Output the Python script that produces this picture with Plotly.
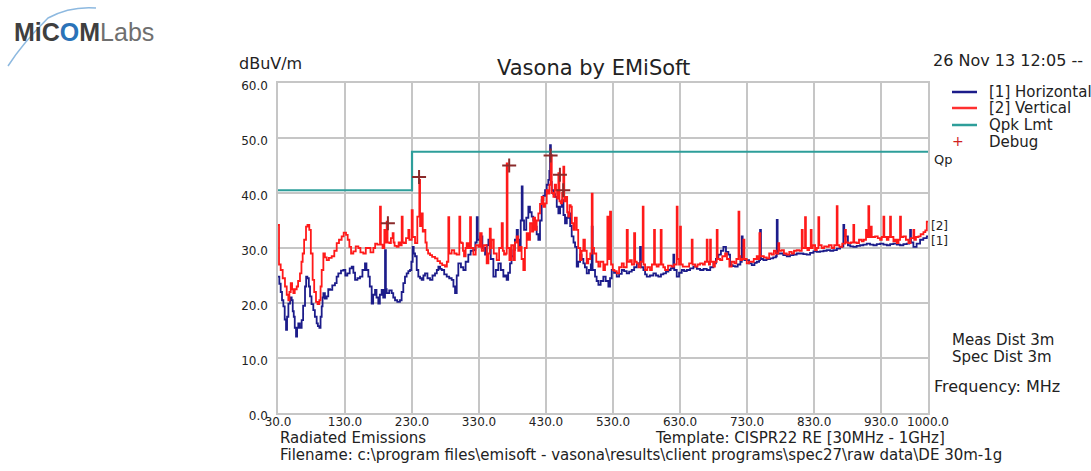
import plotly.graph_objects as go

# ---------------- data ----------------
# [1] Horizontal : (frequency MHz, level dBuV/m)
h_data = [
    (30, 24.8), (32, 23.5), (34, 22), (36, 20.5), (38, 19.4), (40, 17), (42, 15.1), (43.5, 17.5),
    (45.5, 19.9), (48, 21), (50.4, 20.5), (52, 18.5), (53.5, 17.5), (55, 15.5), (56.9, 13.9),
    (58.5, 15.5), (60.3, 16.3), (62.5, 15.5), (65.3, 16.9), (67.5, 19.5), (70.3, 23.0), (72, 24.8),
    (73.8, 24.5), (76, 23), (77.8, 21.2), (80, 19.8), (82.7, 18.7), (85, 17.5), (87.7, 16.3),
    (89.5, 15.8), (91.7, 15.5), (93.5, 17.5), (95.2, 19.4), (96.5, 21), (97.7, 21.8), (100, 20.8),
    (102.7, 21.2), (105, 22.5), (107.6, 22.4), (111, 23.2), (115, 23.6), (117.5, 24.8), (120, 25.4),
    (124, 25.9), (127.5, 26.0), (130.5, 25), (133.5, 25.4), (137, 26.3), (140, 26.6), (142.5, 25.5),
    (145, 24.2), (148.5, 24.5), (152.4, 24.8), (156, 26), (159.8, 27.2), (162, 26), (164.8, 24.8),
    (167, 23), (169.8, 19.9), (172, 21.5), (174.8, 22.4), (177, 21), (179.7, 19.9), (182, 21.5),
    (184.7, 22.4), (187, 21), (189.7, 29.6), (191, 22.5), (192.2, 21.8), (196, 22.3), (199.7, 21.8),
    (202, 21), (204.6, 20.5), (208, 20.2), (212, 20.5), (214.5, 22), (217, 23.6), (219.5, 24.8),
    (222, 25.4), (224.5, 25.8), (227, 26.0), (229, 27.5), (231, 30.2), (232.5, 29), (234.5, 28.5),
    (237, 26), (239.4, 24.8), (242, 24.5), (244.4, 24.2), (247, 25), (249.4, 25.4), (253, 24.5),
    (256.9, 24.2), (260.5, 25), (264.3, 25.4), (267, 26), (269.3, 26.6), (272, 26.2), (274.3, 26.0),
    (278, 25.2), (281.8, 24.8), (285.5, 24.5), (289.2, 24.2), (291.8, 23), (294.2, 21.8),
    (296.7, 25), (299.1, 27.2), (303, 26.5), (306.6, 26.0), (310, 27.5), (314, 28.8), (317.5, 29.5),
    (321.5, 29.6), (324.5, 31), (326.6, 35.6), (328, 31.5), (331.5, 32.1), (335, 30), (339, 28.8),
    (341.5, 30.5), (344, 31.5), (347.5, 28), (351.4, 24.8), (355, 26), (358.8, 27.2), (362.5, 26),
    (366.3, 24.8), (368.5, 25), (371.2, 24.2), (373.5, 25.5), (376.2, 27.2), (378.5, 28.5),
    (381.2, 29.6), (383.5, 31.5), (386.2, 33.3), (388, 31.5), (390.2, 30.2), (392.2, 35),
    (393.7, 41.2), (395, 35), (397.2, 33.3), (400.5, 35.5), (403.6, 37.5), (406, 36.5), (408.6, 35.7),
    (411, 35), (413.6, 33.9), (416, 32.5), (418.5, 31.5), (421, 35), (423.5, 38.7), (426, 39.5),
    (428.5, 40.5), (431, 41.5), (433.4, 42.4), (435, 44), (436, 48.7), (437.2, 42), (438.5, 40.5),
    (441, 39.8), (443.4, 39.3), (446, 37.5), (448.4, 36.3), (451, 37.5), (453.4, 38.7), (456, 36),
    (458.3, 34.5), (461, 35.5), (463.3, 36.3), (466, 34), (468.3, 32.1), (471, 31), (473.3, 30.2),
    (475.8, 26.6), (478, 27.5), (480.8, 28.8), (483, 28), (485.7, 27.2), (488, 26.5), (490.7, 25.4),
    (494, 26), (496.8, 27), (498.2, 33.9), (499.5, 26), (503.1, 24.8), (505.5, 24), (508.1, 23.3),
    (511.5, 24), (515.5, 24.8), (519, 24), (523, 23.0), (525.5, 24.5), (528, 26.0), (531.5, 25.5),
    (535.5, 24.8), (539, 25.3), (543, 26.0), (546.5, 25.8), (550.4, 25.4), (554, 25.7), (557.9, 26.0),
    (561.5, 26.5), (565.4, 27.2), (568.8, 27), (570.3, 30.2), (571.6, 26.5), (575.3, 26.0),
    (577.8, 25.2), (580.3, 24.8), (585, 25), (590.2, 25.4), (594, 25), (597.6, 24.8), (601.5, 25.2),
    (605.1, 25.4), (609, 25.7), (612.6, 26.0), (616, 26.3), (618.7, 26.5), (620, 28.8), (621.3, 26),
    (625, 24.8), (628.5, 25.5), (632.5, 26.0), (636, 25.8), (640, 26.0), (645, 26.3), (649.9, 26.6),
    (655, 26.2), (659.9, 26.0), (665, 26.2), (669.8, 26.0), (675, 26.5), (679.8, 27.2), (683.5, 28),
    (687.2, 28.8), (691, 29.5), (694.7, 30.2), (698.5, 29.3), (702.1, 28.8), (704.6, 26.9),
    (708.5, 26.7), (712.1, 26.6), (716, 27), (720, 27.5), (722.1, 32.1), (723.4, 28), (726, 27.8),
    (729.5, 27.8), (733, 27.2), (737, 26.9), (741, 27.3), (744.4, 27.5), (748, 27.8), (749.4, 33.3),
    (750.7, 28), (754.4, 27.8), (759, 28), (764.3, 28.1), (769, 28.3), (773, 28.5), (774.3, 35.1),
    (775.6, 29), (779.2, 29.0), (784, 28.7), (789.2, 28.5), (794, 28.7), (799.1, 28.8), (804, 29),
    (809.1, 29.0), (814, 28.9), (819, 28.8), (824, 29.1), (829, 29.4), (834, 29.3), (838.9, 29.4),
    (844, 29.5), (848.9, 29.6), (854, 29.5), (858.8, 29.6), (864, 29.9), (868.8, 30.2), (872.4, 30.3),
    (873.7, 34.2), (875, 32.1), (878.7, 32.1), (880.5, 30.5), (884, 30.3), (888.6, 30.2),
    (893.5, 30.4), (898.6, 30.5), (903.5, 30.6), (908.6, 30.8), (913.5, 30.6), (918.5, 30.5),
    (923.5, 30.7), (928.5, 30.8), (933.5, 30.6), (938.5, 30.5), (943.5, 30.7), (948.4, 30.8),
    (953.4, 30.6), (958.3, 30.5), (963.3, 30.7), (968.3, 30.8), (972, 31), (973.3, 33.3), (974.6, 31),
    (978.2, 30.2), (983, 30.8), (988.2, 31.5), (993, 31.8), (998.2, 32.1), (1000, 32.1),
]

# [2] Vertical : (frequency MHz, level dBuV/m)
v_data = [
    (30, 34.2), (31.5, 27), (34, 26.0), (37, 24.5), (40.4, 23.0), (43, 21.5), (45.4, 20.5), (47, 22),
    (49, 23.6), (51, 22.5), (52.9, 21.8), (55, 22.5), (57.9, 23.0), (60, 24), (62.8, 25.4),
    (65, 27.5), (66.8, 29.0), (69, 31.5), (71.8, 33.9), (74, 34.2), (76.7, 33.3), (79, 29),
    (81.7, 24.2), (84, 22), (86.7, 20.2), (89, 19.8), (91.7, 20.5), (93.5, 23), (95.2, 26.0),
    (97.7, 29.0), (100, 28.3), (102.7, 27.8), (106, 28.2), (110.1, 28.5), (114, 29.5), (117.6, 30.9),
    (121, 31.5), (125, 32.1), (128, 32.8), (131.5, 32.4), (134, 31.5), (136.5, 30.2), (139, 29.0),
    (142.4, 29.4), (146, 30.3), (149.9, 30.0), (153, 29.2), (157.3, 29.0), (161, 30.0), (164.8, 30.0),
    (168, 29.2), (172.3, 30.0), (175, 30.8), (178.2, 30.6), (182.2, 37.5), (183.5, 30.6), (186, 30.0),
    (188.7, 33.3), (190, 31), (192.2, 34.8), (193.5, 31), (196.2, 30.9), (198.5, 31.8), (201.1, 32.7),
    (202.5, 31), (204, 30.4), (207.1, 30.2), (210, 31), (212, 30.5), (214.6, 35.7), (216, 31),
    (218, 30.9), (221, 31.8), (224.5, 33.3), (226, 31.5), (229.5, 36.9), (231, 32), (234.5, 30.9),
    (237.9, 35.7), (240.9, 42.4), (242, 34), (244.4, 36.3), (246, 33), (247.9, 33.3), (250, 31),
    (251.9, 29.6), (254, 29), (256.9, 28.7), (260, 28.4), (264.3, 28.1), (268, 27.6), (271.8, 27.2),
    (275, 26.9), (279.2, 26.6), (282, 27.5), (284.2, 35.6), (285.5, 29), (289.2, 29.6), (293, 29),
    (296.6, 28.8), (300.6, 35.7), (302, 31), (304.1, 30.9), (306, 29.5), (307.6, 28.5), (310, 30),
    (311.6, 30.9), (314, 30), (316.6, 35.6), (318, 30), (321.5, 28.8), (325, 30.5), (329, 30.2),
    (331.5, 32.7), (334, 29.5), (337, 30.5), (341.4, 27.2), (344, 29), (346, 33.5), (347.5, 30),
    (348.9, 31.5), (352, 29), (356.4, 27.8), (360, 30), (363.8, 34.5), (365.5, 29.5), (367.3, 28.8),
    (370, 29), (371.3, 45.4), (372.5, 30), (375.3, 27.8), (378, 30.5), (381.2, 27.8), (383.5, 31),
    (386.2, 32.1), (388.5, 29.5), (391.1, 30.2), (393.5, 28), (396.1, 26.0), (398.5, 30), (401.1, 32.7),
    (403.5, 31.5), (406.1, 34.5), (409, 33), (411, 35.5), (413.6, 33.3), (416, 35), (418.5, 36.3),
    (421, 38), (423.5, 39.3), (426, 37.5), (428.5, 38.1), (431, 40.5), (433.4, 39.9), (435, 41.5),
    (437, 46.9), (438.5, 40), (441, 39.3), (443, 41.5), (444.9, 40.5), (446.5, 39), (448.4, 43.6),
    (450, 38.5), (451.9, 38.1), (454, 40), (455.8, 44.8), (457.2, 38.5), (459.8, 39.3), (461.5, 36.5),
    (463.3, 35.7), (465, 37.8), (466.8, 37.5), (468.5, 34.5), (470.8, 33.3), (473, 35.5), (475.8, 33.3),
    (478, 30), (480.8, 27.8), (483, 29.5), (485.7, 31.5), (488, 29.5), (490.7, 27.2), (493, 28),
    (496, 29), (498.2, 39.9), (499.5, 30), (501.6, 29.0), (505, 27.5), (508.1, 26.6), (511, 27.5),
    (515.5, 26.0), (518, 27), (521.5, 35.7), (523, 28), (525.5, 36.6), (527, 27), (529.5, 26.0),
    (532, 25.8), (535.5, 25.4), (539, 26.5), (543, 27.2), (546, 26.5), (550.4, 33.3), (552, 27.5),
    (555.4, 27.8), (558, 27), (561.4, 32.7), (563, 27.5), (565.4, 27.2), (568, 26.5), (571, 27.5),
    (574.3, 37.5), (575.5, 27), (577.8, 26.0), (581, 26.5), (585.2, 26.0), (588, 27), (591.2, 33.3),
    (592.5, 27), (595.1, 26.6), (598, 27), (601.1, 33.3), (602.5, 27), (605, 26.5), (607.6, 26.0),
    (612, 26.8), (617.5, 26.6), (621, 27), (625, 37.5), (626.3, 28), (628.5, 27), (630, 33.9),
    (631.3, 27), (634, 26.6), (640, 26.6), (643.5, 27.2), (647.4, 31.5), (648.7, 27), (652.4, 26.6),
    (656, 27), (659.9, 27.2), (664, 27), (667, 27.5), (669.8, 31.5), (671, 27.5), (673, 27),
    (674.8, 31.5), (676, 27.5), (679.8, 26.6), (682, 27.5), (684.7, 33.3), (686, 28), (689.7, 27.8),
    (693, 28.5), (697.2, 29.0), (700, 28), (703.6, 26.6), (707, 27.5), (711, 27.2), (714, 28),
    (717.2, 36.6), (718.5, 28.5), (720, 27.8), (722.5, 28), (724.5, 31.5), (726, 28), (729.5, 27.2),
    (733, 27.5), (737, 27.5), (740, 28), (744.4, 28.5), (746.5, 28), (748.4, 32.7), (749.7, 28.5),
    (751.9, 28.5), (755, 28.3), (759.4, 28.1), (763, 29), (766.8, 28.8), (770, 29.5), (773, 29.0),
    (776.7, 30.9), (778, 29.5), (781.7, 29.6), (785, 29), (789.2, 28.8), (793, 29.3), (796.6, 29.0),
    (800, 29.5), (804.1, 29.6), (808, 29.5), (811.6, 33.3), (813, 30), (816.5, 35.6), (817.8, 30),
    (820, 29.6), (822.5, 30), (825, 33.3), (826.3, 30), (828, 30.5), (831.5, 29.6), (834, 30),
    (836.4, 35.6), (837.7, 30.5), (841.4, 30.0), (845, 30.3), (848.9, 30.2), (852, 30.5), (856.3, 30.0),
    (860, 30.5), (863.8, 37.6), (865, 30.5), (867.8, 30.2), (872, 30.8), (876.2, 33.3), (877.5, 31),
    (881.2, 30.9), (885, 31), (888.6, 34.2), (889.9, 31), (893.6, 30.9), (897, 31.5), (901.1, 31.2),
    (904, 31.5), (907.5, 33.3), (909, 32), (911, 37.6), (912.3, 32), (914.5, 33.9), (916, 32),
    (921, 32.1), (925, 31.8), (928.5, 31.5), (931, 32), (933.5, 35.7), (934.8, 32), (938.5, 31.5),
    (941, 32), (943.4, 35.7), (944.7, 32), (948.4, 31.2), (951, 31.5), (953.4, 30.9), (956, 31.5),
    (958.3, 35.7), (959.6, 32), (963.3, 32.1), (967, 31.5), (970.8, 30.9), (974, 31.8), (978.2, 33.3),
    (979.5, 31.5), (982, 32), (985.7, 32.1), (989, 32.5), (993.2, 32.9), (996, 33.2), (998.2, 34.8),
    (1000, 34.8),
]

limit_freq = [30, 230, 230, 1000]
limit_level = [40.5, 40.5, 47.5, 47.5]

debug_freq = [194.0, 240.5, 375.0, 436.8, 450.7, 455.7]
debug_level = [34.5, 42.9, 45.0, 46.8, 43.3, 40.5]

x_ticks = [30, 130, 230, 330, 430, 530, 630, 730, 830, 930, 1000]
y_ticks = [0, 10, 20, 30, 40, 50, 60]

h_freq = [p[0] for p in h_data]
h_level = [p[1] for p in h_data]
v_freq = [p[0] for p in v_data]
v_level = [p[1] for p in v_data]

# ---------------- layout geometry (pixels) ----------------
W_PX, H_PX = 1091, 471
L, R, T, B = 278, 928, 83, 413
FONT = "DejaVu Sans"
TXT = "#222222"


def px(x):
    return (x - L) / (R - L)


def py(y):
    return (B - y) / (B - T)


fig = go.Figure()
fig.add_trace(go.Scatter(x=h_freq, y=h_level, mode="lines", line=dict(color="#1c1c8a", width=1.8, shape="hv"),
                         name="[1] Horizontal", showlegend=False))
fig.add_trace(go.Scatter(x=v_freq, y=v_level, mode="lines", line=dict(color="#ff1a1a", width=1.8, shape="hv"),
                         name="[2] Vertical", showlegend=False))
fig.add_trace(go.Scatter(x=limit_freq, y=limit_level, mode="lines", line=dict(color="#2e9e9a", width=2.2),
                         name="Qpk Lmt", showlegend=False))
fig.add_trace(go.Scatter(x=debug_freq, y=debug_level, mode="markers",
                         marker=dict(symbol="cross-thin", size=10, line=dict(color="#8a2a2a", width=2)),
                         name="Debug", showlegend=False))

ann = []


def text(x, y, s, size=16, anchor="left", color=TXT, family=FONT):
    ann.append(dict(x=px(x), y=py(y), xref="paper", yref="paper", text=s, showarrow=False,
                    xanchor=anchor, yanchor="middle", font=dict(family=family, size=size, color=color)))


# logo
text(12, 32, "<b>MiC<span style='color:#2a72b8'>O</span>M</b><span style='color:#6f6f6f'>Labs</span>",
     size=25, color="#3f3f3f", family="Liberation Sans")
# titles
text(593, 68, "Vasona by EMiSoft", size=21, anchor="center")
text(931, 60, "26 Nov 13 12:05 --", size=16)
text(237, 63, "dBuV/m", size=16)
# legend
leg_rows = [("[1] Horizontal", 92), ("[2] Vertical", 108), ("Qpk Lmt", 125), ("Debug", 142)]
for s, y in leg_rows:
    text(987, y, s, size=15)
text(958, 141, "+", size=14, anchor="center", color="#d02020")
text(932, 159, "Qp", size=13)
text(929, 226, "[2]", size=12)
text(929, 241, "[1]", size=12)
# right info
text(950, 340, "Meas Dist 3m", size=15)
text(950, 357, "Spec Dist 3m", size=15)
text(932, 386, "Frequency: MHz", size=16)
# bottom info
text(278, 438, "Radiated Emissions", size=15)
text(653, 438, "Template: CISPR22 RE [30MHz - 1GHz]", size=15)
text(278, 455, "Filename: c:\\program files\\emisoft - vasona\\results\\client programs\\spec27\\raw data\\DE 30m-1g",
     size=15)

shapes = []
for color, y in [("#1c1c8a", 92), ("#ff3030", 108), ("#2e9e9a", 125)]:
    shapes.append(dict(type="line", xref="paper", yref="paper", x0=px(952), x1=px(977), y0=py(y), y1=py(y),
                       line=dict(color=color, width=2.5)))
# logo swoosh
pts = [(8, 66), (22, 44), (48, 18), (70, 6), (96, 8)]
path = "M {},{} Q {},{} {},{} Q {},{} {},{}".format(
    px(pts[0][0]), py(pts[0][1]), px(pts[1][0]), py(pts[1][1]), px(pts[2][0]), py(pts[2][1]),
    px(pts[3][0]), py(pts[3][1]), px(pts[4][0]), py(pts[4][1]))
shapes.append(dict(type="path", xref="paper", yref="paper", path=path, line=dict(color="#8db9e0", width=1.5)))

grid = "#c6c6c6"
fig.update_layout(
    width=W_PX, height=H_PX,
    margin=dict(l=L, r=W_PX - R, t=T, b=H_PX - B, pad=0),
    paper_bgcolor="white", plot_bgcolor="white",
    showlegend=False,
    annotations=ann, shapes=shapes,
    font=dict(family=FONT, color=TXT),
    xaxis=dict(range=[30, 1000], tickvals=x_ticks, ticktext=["{:.1f}".format(v) for v in x_ticks],
               showgrid=True, gridcolor=grid, gridwidth=1.5, zeroline=False,
               showline=True, linecolor=grid, linewidth=1.5, mirror=True, ticks="",
               tickfont=dict(family=FONT, size=12, color=TXT), ticklabelstandoff=-3),
    yaxis=dict(range=[0, 60], tickvals=y_ticks, ticktext=["{:.1f}".format(v) for v in y_ticks],
               showgrid=True, gridcolor=grid, gridwidth=1.5, zeroline=False,
               showline=True, linecolor=grid, linewidth=1.5, mirror=True, ticks="",
               tickfont=dict(family=FONT, size=12, color=TXT), ticklabelshift=3, ticklabelstandoff=6),
)

fig.write_html("out.html", post_script="document.body.style.margin='0';",
               config={"displayModeBar": False})
